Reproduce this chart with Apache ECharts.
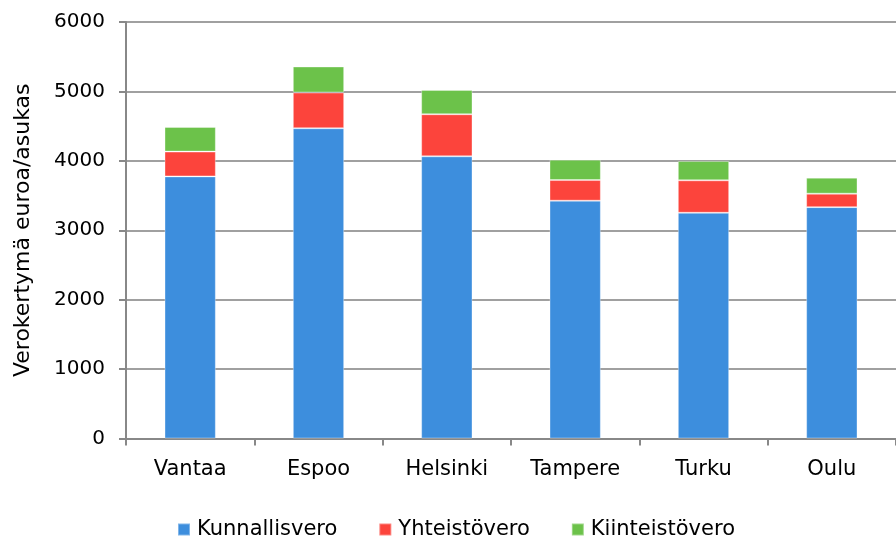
<!DOCTYPE html>
<html><head><meta charset="utf-8">
<script src="https://cdn.jsdelivr.net/npm/echarts@6/dist/echarts.min.js"></script>
<style>html,body{margin:0;padding:0;background:#fff}#c{width:896px;height:540px}</style>
</head><body><div id="c"></div>
<script>
const categories = ['Vantaa','Espoo','Helsinki','Tampere','Turku','Oulu'];
const kunnallisvero = [3776, 4469, 4065, 3426, 3252, 3333];
const yhteistovero = [357, 515, 606, 297, 467, 194];
const kiinteistovero = [355, 375, 351, 294, 278, 231];
const seriesNames = ['Kunnallisvero','Yhteistövero','Kiinteistövero'];
const yTicks = {min:0, max:6000, interval:1000};
const FONT = 'DejaVu Sans';
const chart = echarts.init(document.getElementById('c'), null, {renderer:'canvas'});
function bar(name, data, color){
  return {name, type:'bar', stack:'t', data, barWidth:'40%',
    itemStyle:{color, borderColor:'rgba(255,255,255,0.35)', borderWidth:1}};
}
chart.setOption({
  animation:false,
  grid:{left:126, top:22, width:778, height:416.5, containLabel:false},
  legend:{left:172, top:514, itemWidth:12, itemHeight:12, itemGap:41, icon:'rect',
    textStyle:{fontFamily:FONT, fontSize:21, color:'#000', padding:[0,0,0,2]},
    data:seriesNames},
  xAxis:{type:'category', data:categories, boundaryGap:true,
    axisLine:{lineStyle:{color:'#888', width:2}},
    axisTick:{show:true, length:7, alignWithLabel:false, lineStyle:{color:'#888', width:2}},
    axisLabel:{fontFamily:FONT, fontSize:21, color:'#000', margin:21}},
  yAxis:{type:'value', min:yTicks.min, max:yTicks.max, interval:yTicks.interval,
    name:'Verokertymä euroa/asukas', nameLocation:'middle', nameGap:92,
    nameTextStyle:{fontFamily:FONT, fontSize:22, color:'#000'},
    axisLine:{show:true, lineStyle:{color:'#888', width:2}},
    axisTick:{show:true, length:7, lineStyle:{color:'#888', width:2}},
    splitLine:{lineStyle:{color:'#a0a0a0', width:2}},
    axisLabel:{fontFamily:FONT, fontSize:20, color:'#000', margin:21, formatter:v=>String(v)}},
  series:[
    bar(seriesNames[0], kunnallisvero, '#3d8edd'),
    bar(seriesNames[1], yhteistovero, '#fc443c'),
    bar(seriesNames[2], kiinteistovero, '#6cc24a')
  ]
});
</script></body></html>
